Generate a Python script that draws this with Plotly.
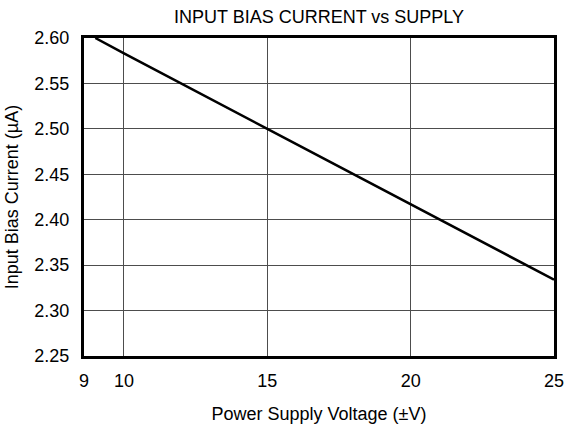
import plotly.graph_objects as go

# Data
supply_voltage = [9, 10, 15, 20, 25]          # ±V
bias_current = [2.600, 2.583, 2.500, 2.417, 2.334]  # µA

x_tick_labels = ["9", "10", "15", "20", "25"]
x_tick_values = [8.605, 10, 15, 20, 25]       # "9" label sits at the left edge
y_tick_values = [2.25, 2.30, 2.35, 2.40, 2.45, 2.50, 2.55, 2.60]

FONT = "Liberation Sans, Arial, Helvetica, sans-serif"
FS = 18

fig = go.Figure()
fig.add_trace(go.Scatter(
    x=supply_voltage, y=bias_current, mode="lines",
    line=dict(color="black", width=2.5), showlegend=False,
    hoverinfo="skip",
))

fig.update_layout(
    width=573, height=426,
    margin=dict(l=84, r=19, t=38, b=70),
    paper_bgcolor="white", plot_bgcolor="white",
    font=dict(family=FONT, size=FS, color="black"),
    title=dict(text="INPUT BIAS CURRENT vs SUPPLY", x=0.5, xref="paper",
               y=(426 - 17) / 426, yref="container", yanchor="middle",
               font=dict(size=FS, color="black")),
)

fig.update_xaxes(
    range=[x_tick_values[0], 25],
    tickmode="array", tickvals=x_tick_values, ticktext=x_tick_labels,
    showgrid=True, gridcolor="#4d4d4d", gridwidth=1,
    showline=True, linecolor="black", linewidth=3, mirror=True,
    ticks="outside", ticklen=6, tickcolor="rgba(0,0,0,0)",
    tickfont=dict(size=FS, color="black"),
    zeroline=False, automargin=False,
    title=dict(text="Power Supply Voltage (±V)", standoff=18,
               font=dict(size=FS, color="black")),
)
fig.update_yaxes(
    range=[2.25, 2.60],
    tickmode="array", tickvals=y_tick_values,
    tickformat=".2f",
    showgrid=True, gridcolor="#4d4d4d", gridwidth=1,
    showline=True, linecolor="black", linewidth=3, mirror=True,
    ticks="outside", ticklen=8, tickcolor="rgba(0,0,0,0)",
    tickfont=dict(size=FS, color="black"),
    zeroline=False, automargin=False,
    title=dict(text="Input Bias Current (µA)", standoff=12,
               font=dict(size=FS, color="black")),
)

fig.write_html("out.html", config={"displayModeBar": False},
               post_script="document.body.style.margin='0';")
